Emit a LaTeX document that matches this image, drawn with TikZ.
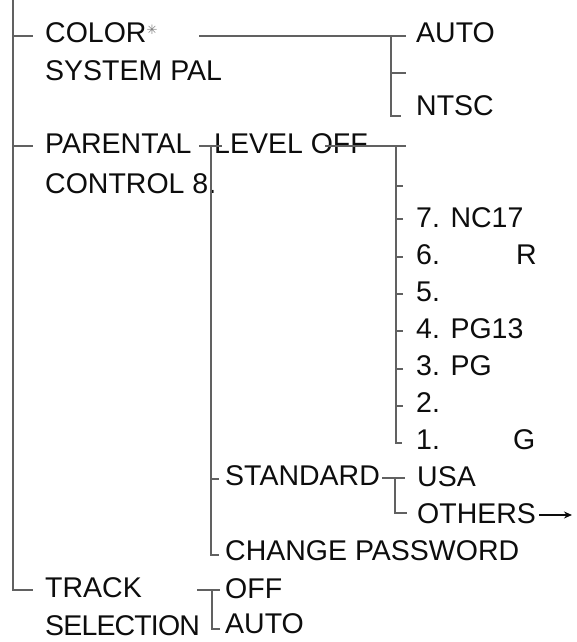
\documentclass[tikz,border=0pt]{standalone}
\usepackage{fontspec}
\setmainfont{Liberation Sans}
\newfontfamily\symfont{DejaVu Sans}
\usetikzlibrary{arrows.meta}

\begin{document}
\begin{tikzpicture}[
x=1pt, y=-1pt,
every node/.style={font=\fontsize{28.5}{30}\selectfont, text=black!95},
item/.style={anchor=base west, inner sep=0pt},
wire/.style={line width=1.7pt, draw=black!62},
arrow/.style={-{Stealth[length=8pt, width=7pt]}, line width=1.4pt, draw=black!95}
]
\fill[white] (0,0) rectangle (576,642);
\useasboundingbox (0,0) rectangle (576,642);

% main menu items
\node[item] (color) at (45,42) {COLOR\raisebox{7pt}{\symfont\fontsize{13}{13}\selectfont\color{black!50}✳}};
\node[item] (colorsys) at (45,80) {SYSTEM PAL};
\node[item] (parental) at (45,153) {PARENTAL};
\node[item] (parentalctl) at (45,193) {CONTROL 8.};
\node[item] (track) at (45,597) {TRACK};
\node[item] (tracksel) at (45,635) {\addfontfeature{LetterSpace=-3}SELECTION};

% colour system options
\node[item] (auto) at (416,42) {AUTO};
\node[item] (ntsc) at (416,115) {NTSC};

% parental control
\node[item] (level) at (214,153) {LEVEL OFF};
\node[item] (r7) at (416,227) {7. NC17};
\node[item] (r6) at (416,264) {\makebox[100pt][l]{6.}R};
\node[item] (r5) at (416,301) {5.};
\node[item] (r4) at (416,338) {4. PG13};
\node[item] (r3) at (416,375) {3. PG};
\node[item] (r2) at (416,412) {2.};
\node[item] (r1) at (416,449) {\makebox[97pt][l]{1.}G};
\node[item] (standard) at (225,485) {STANDARD};
\node[item] (usa) at (417,486) {USA};
\node[item] (others) at (417,523) {OTHERS};
\node[item] (password) at (225,560) {CHANGE PASSWORD};

% track selection
\node[item] (off) at (225,598) {OFF};
\node[item] (trackauto) at (225,633) {AUTO};

% junctions
\coordinate (root) at (12.7,0);
\coordinate (colorspine) at (391,36);
\coordinate (parentalspine) at (211,146);
\coordinate (levelspine) at (396,146);
\coordinate (standardspine) at (395,478);
\coordinate (trackspine) at (212,590);
\coordinate (othersend) at (572,515);

% trunk
\draw[wire] (root) |- (33,590);
\draw[wire] (root |- colorspine) -- (33,36);
\draw[wire] (root |- parentalspine) -- (33,146);

% colour system bracket
\draw[wire] (199,36) -- (406,36);
\draw[wire] (colorspine) |- (401,116);
\draw[wire] (391,73) -- (406,73);

% parental control bracket
\draw[wire] (199,146) -- (222,146);
\draw[wire] (parentalspine) |- (219,555);
\draw[wire] (211,479) -- (219,479);

% level bracket
\draw[wire] (325,146) -- (406,146);
\draw[wire] (levelspine) |- (402,443);
\foreach \y in {186,219,257,294,331,369,406}
  \draw[wire] (396,\y) -- (403,\y);

% standard bracket
\draw[wire] (382,478) -- (405,478);
\draw[wire] (standardspine) |- (407,513);
\draw[arrow] ([xshift=3pt]others.east |- othersend) -- (othersend);

% track bracket
\draw[wire] (197,590) -- (220,590);
\draw[wire] (trackspine) |- (220,629);

\end{tikzpicture}
\end{document}
